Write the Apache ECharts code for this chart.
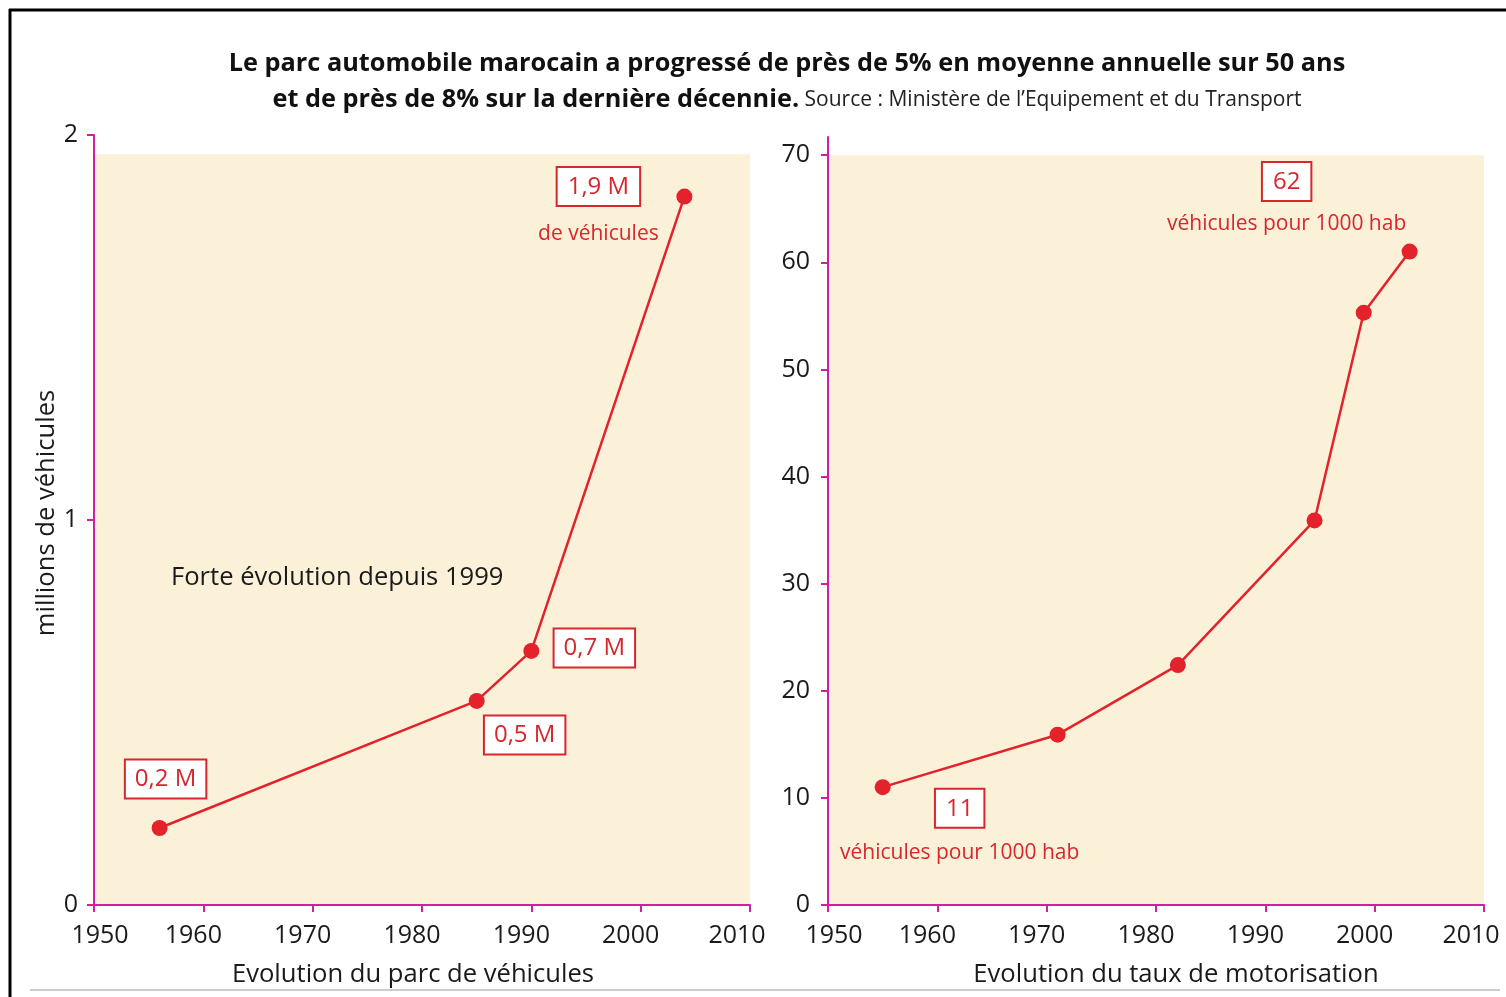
<!DOCTYPE html>
<html><head><meta charset="utf-8">
<script src="https://cdn.jsdelivr.net/npm/echarts@6/dist/echarts.min.js"></script>
<style>html,body{margin:0;padding:0;background:#fff}#c{width:1506px;height:997px}</style>
</head><body><div id="c"></div>
<script>
// ---- data ----
const xTickYears = [1950, 1960, 1970, 1980, 1990, 2000, 2010];
const parcYears = [1956, 1985, 1990, 2004];
const parcValues = [0.2, 0.53, 0.66, 1.84];
const parcLabels = ['0,2 M', '0,5 M', '0,7 M', '1,9 M'];
const parcTicks = [0, 1, 2];
const tauxYears = [1955, 1971, 1982, 1994.5, 1999, 2003.2];
const tauxValues = [11, 15.9, 22.4, 35.9, 55.3, 61];
const tauxLabels = ['11', '', '', '', '', '62'];
const tauxTicks = [0, 10, 20, 30, 40, 50, 60, 70];

const FONT = 'Open Sans';
const RED = '#e3222b';
const LRED = '#d8262d';
const MAG = '#d0209e';
const BEIGE = '#faf1d8';

const boxStyle = {
  color: LRED, fontFamily: FONT, fontSize: 24, backgroundColor: '#fff',
  borderColor: LRED, borderWidth: 2, padding: [7, 9, 6, 9]
};
const richBox = {
  box: { color: LRED, fontFamily: FONT, fontSize: 24, lineHeight: 30, backgroundColor: '#fff',
         borderColor: LRED, borderWidth: 2, padding: [7, 10, 6, 10] },
  plain: { color: LRED, fontFamily: FONT, fontSize: 21, lineHeight: 60 }
};

function boxLabel(text, off) {
  return Object.assign({ show: true, position: 'inside', offset: off, formatter: text }, boxStyle);
}
function richLabel(text, sub, off, lh) {
  const rich = { box: richBox.box, plain: Object.assign({}, richBox.plain, lh ? { lineHeight: lh } : {}) };
  return { show: true, position: 'inside', offset: off, align: 'center',
           formatter: '{box|' + text + '}\n{plain|' + sub + '}', rich: rich };
}

const parcOffsets = [[6, -49], [48, 34], [63, -3], [-86, 22]];
const parcData = parcYears.map((y, i) => ({
  value: [y, parcValues[i]],
  label: i === 3 ? richLabel(parcLabels[i], 'de véhicules', parcOffsets[i], 64)
                 : boxLabel(parcLabels[i], parcOffsets[i])
}));
const tauxOffsets = { 0: [77, 51], 5: [-123, -43] };
const tauxData = tauxYears.map((y, i) => ({
  value: [y, tauxValues[i]],
  label: tauxLabels[i] ? richLabel(tauxLabels[i], 'véhicules pour 1000 hab', tauxOffsets[i], i === 5 ? 54 : 60) : { show: false }
}));

const axisCommon = {
  z: 10,
  axisLine: { show: true, lineStyle: { color: MAG, width: 2 } },
  axisTick: { show: true, inside: false, length: 7, lineStyle: { color: MAG, width: 2 } },
  splitLine: { show: false },
  axisLabel: { color: '#1a1a1a', fontFamily: FONT, fontSize: 25 }
};
const yearRich = {
  first: { color: '#1a1a1a', fontFamily: FONT, fontSize: 25, padding: [0, 0, 0, 12] },
  other: { color: '#1a1a1a', fontFamily: FONT, fontSize: 25, padding: [0, 20, 0, 0] },
  last: { color: '#1a1a1a', fontFamily: FONT, fontSize: 25, padding: [0, 26, 0, 0] }
};
function xAx(grid, name, pad) {
  return Object.assign({}, axisCommon, {
    type: 'value', gridIndex: grid, min: 1950, max: 2010, interval: 10,
    axisLabel: Object.assign({}, axisCommon.axisLabel, {
      margin: 18, rich: yearRich,
      formatter: v => v === xTickYears[0] ? '{first|' + v + '}' :
                      (v === xTickYears[xTickYears.length - 1] ? '{last|' + v + '}' : '{other|' + v + '}')
    }),
    name: name, nameLocation: 'middle', nameGap: 57,
    nameTextStyle: { color: '#1a1a1a', fontFamily: FONT, fontSize: 25.6, padding: pad }
  });
}

const option = {
  animation: false,
  title: {
    left: 782, top: 41, textAlign: 'center',
    text: '{b|Le parc automobile marocain a progressé de près de 5% en moyenne annuelle sur 50 ans}\n' +
          '{b|et de près de 8% sur la dernière décennie.}{s| Source : Ministère de l’Equipement et du Transport}',
    textStyle: {
      rich: {
        b: { fontFamily: FONT, fontWeight: 'bold', fontSize: 25.3, color: '#111', lineHeight: 36 },
        s: { fontFamily: FONT, fontWeight: 'normal', fontSize: 21, color: '#222', lineHeight: 36 }
      }
    }
  },
  graphic: [
    { type: 'line', z: 100, shape: { x1: 9, y1: 10, x2: 1506, y2: 10 }, style: { stroke: '#000', lineWidth: 3 } },
    { type: 'line', z: 100, shape: { x1: 10, y1: 9, x2: 10, y2: 997 }, style: { stroke: '#000', lineWidth: 3 } },
    { type: 'line', z: 100, shape: { x1: 30, y1: 990, x2: 1500, y2: 990 }, style: { stroke: '#bbb', lineWidth: 1.5 } },
    { type: 'text', z: 100, left: 171, top: 565, style: { text: 'Forte évolution depuis 1999', fontFamily: FONT, fontSize: 25.6, fill: '#1a1a1a' } }
  ],
  grid: [
    { left: 94, top: 135, width: 656, height: 770, outerBoundsMode: 'none', containLabel: false },
    { left: 828, top: 137, width: 656, height: 768, outerBoundsMode: 'none', containLabel: false }
  ],
  xAxis: [xAx(0, 'Evolution du parc de véhicules', [0, 18, 0, 0]), xAx(1, 'Evolution du taux de motorisation', [0, 0, 0, 40])],
  yAxis: [
    Object.assign({}, axisCommon, {
      type: 'value', gridIndex: 0, min: 0, max: 2, interval: 1,
      axisLabel: Object.assign({}, axisCommon.axisLabel, { margin: 16, customValues: parcTicks }),
      axisTick: Object.assign({}, axisCommon.axisTick, { customValues: parcTicks }),
      name: 'millions de véhicules', nameLocation: 'middle', nameGap: 34, nameRotate: 90,
      nameTextStyle: { color: '#1a1a1a', fontFamily: FONT, fontSize: 25.6, padding: [0, 0, 0, 14] }
    }),
    Object.assign({}, axisCommon, {
      type: 'value', gridIndex: 1, min: 0, max: 71.7,
      axisLabel: Object.assign({}, axisCommon.axisLabel, { margin: 18, customValues: tauxTicks }),
      axisTick: Object.assign({}, axisCommon.axisTick, { customValues: tauxTicks })
    })
  ],
  series: [
    {
      type: 'line', xAxisIndex: 0, yAxisIndex: 0, data: parcData,
      symbol: 'circle', symbolSize: 16, itemStyle: { color: RED },
      lineStyle: { color: RED, width: 2.5 },
      markArea: { silent: true, itemStyle: { color: BEIGE },
        data: [[{ coord: [1950, 0] }, { coord: [2010.3, 1.95] }]] }
    },
    {
      type: 'line', xAxisIndex: 1, yAxisIndex: 1, data: tauxData,
      symbol: 'circle', symbolSize: 16, itemStyle: { color: RED },
      lineStyle: { color: RED, width: 2.5 },
      markArea: { silent: true, itemStyle: { color: BEIGE },
        data: [[{ coord: [1950, 0] }, { coord: [2010.3, 70] }]] }
    }
  ]
};
const chart = echarts.init(document.getElementById('c'));
chart.setOption(option);
</script>
</body></html>
